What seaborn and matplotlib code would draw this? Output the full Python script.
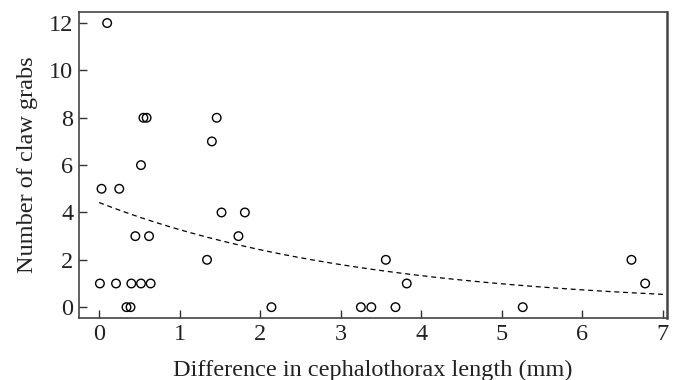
import numpy as np
import pandas as pd
import matplotlib
matplotlib.use("Agg")
import matplotlib.pyplot as plt
import seaborn as sns

# difference in cephalothorax length (mm) and number of claw grabs
length_diff = [0.10, 0.55, 0.59, 1.46, 1.40, 0.52, 0.03, 0.25,
               1.52, 1.81, 0.45, 0.62, 1.73, 1.34, 3.56, 6.61,
               0.01, 0.21, 0.40, 0.52, 0.64, 3.82, 6.78,
               0.34, 0.39, 2.14, 3.25, 3.38, 3.68, 5.26]
claw_grabs = [12, 8, 8, 8, 7, 6, 5, 5,
              4, 4, 3, 3, 3, 2, 2, 2,
              1, 1, 1, 1, 1, 1, 1,
              0, 0, 0, 0, 0, 0, 0]

# fitted exponential (log-link) curve, coefficients estimated from the drawn line
fit_intercept = 1.486
fit_slope = -0.300
fit_x = np.linspace(0, 7, 200)

df = pd.DataFrame({"x": length_diff, "y": claw_grabs})
fit_df = pd.DataFrame({"x": fit_x, "y": np.exp(fit_intercept + fit_slope * fit_x)})

sns.set_style("white")
plt.rcParams["font.family"] = ["Liberation Serif", "DejaVu Serif"]

fig = plt.figure(figsize=(6.75, 3.8), dpi=100)
ax = fig.add_axes([0.117, 0.163, 0.871, 0.805])

sns.lineplot(data=fit_df, x="x", y="y", ax=ax, color="black",
             linestyle=(0, (4, 3)), linewidth=0.9)
sns.scatterplot(data=df, x="x", y="y", ax=ax, s=38, marker="o",
                facecolor="none", edgecolor="black", linewidth=1.0)

ax.set_xlim(-0.25, 7.05)
ax.set_ylim(-0.46, 12.46)
ax.set_xticks(range(0, 8))
ax.set_yticks(range(0, 13, 2))
ax.tick_params(bottom=True, left=True, direction="in", length=5.5, width=1,
               colors="#333333", labelsize=17.5, labelcolor="#222222", pad=4)
for side in ["top", "right", "bottom", "left"]:
    ax.spines[side].set_color("#444444")
    ax.spines[side].set_linewidth(1.2)
ax.spines["right"].set_linewidth(1.8)

ax.set_xlabel("Difference in cephalothorax length (mm)", fontsize=17.5,
              color="#222222", labelpad=11)
ax.set_ylabel("Number of claw grabs", fontsize=17.5, color="#222222", labelpad=8)

fig.savefig("out.png", dpi=100)
